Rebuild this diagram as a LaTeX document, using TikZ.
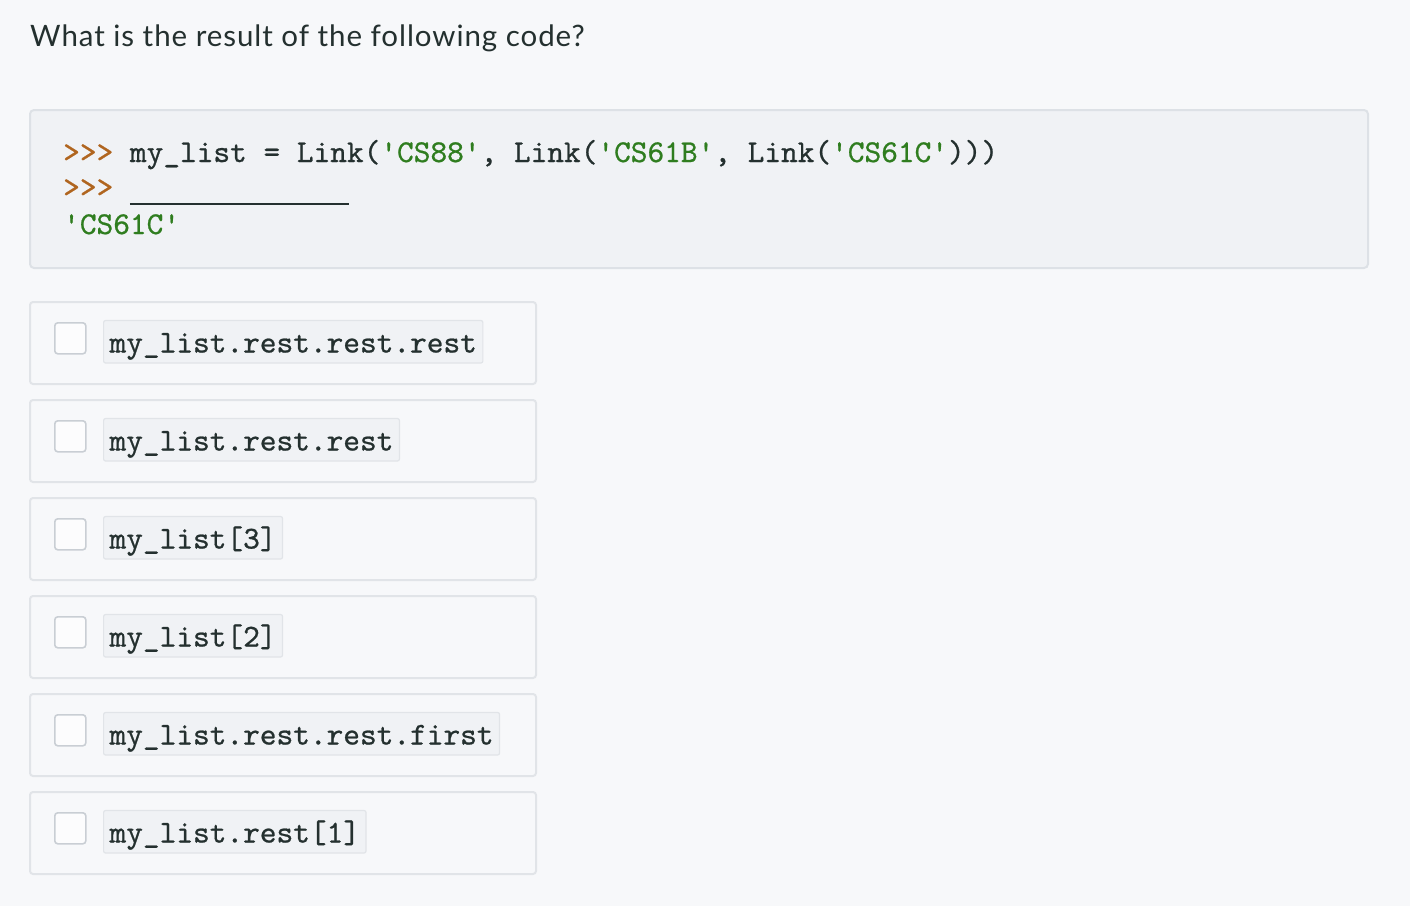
\documentclass[tikz,border=0pt]{standalone}
\usepackage{fontspec}
\newfontfamily\titlefont{Lato}[LetterSpace=3.2]
\newfontfamily\codefont{lmmono10-regular.otf}[FakeBold=0.7]
\definecolor{pagebg}{HTML}{F7F8FA}
\definecolor{codebg}{HTML}{F0F2F5}
\definecolor{codeborder}{HTML}{DDE1E6}
\definecolor{boxborder}{HTML}{E1E4E8}
\definecolor{cbborder}{HTML}{C9CED4}
\definecolor{ink}{HTML}{24302F}
\definecolor{prompt}{HTML}{B0651F}
\definecolor{strg}{HTML}{2F7D1F}
\tikzset{
  codetxt/.style={font=\codefont\fontsize{31.8}{36}\selectfont, text=ink, inner sep=0pt, anchor=base west},
  codeblock/.style={draw=codeborder, fill=codebg, line width=2pt, rounded corners=4pt, anchor=north west, minimum width=1338pt, minimum height=158pt, inner sep=0pt},
  optbox/.style={draw=boxborder, fill=pagebg, line width=2pt, rounded corners=3pt, anchor=north west, minimum width=506pt, minimum height=82pt, inner sep=0pt},
  checkbox/.style={draw=cbborder, fill=white!60!pagebg, line width=1.6pt, rounded corners=3pt, anchor=north west, minimum size=31pt, inner sep=0pt},
  chip/.style={codetxt, draw=boxborder, fill=codebg, line width=1.2pt, rounded corners=2pt, inner xsep=6pt, inner ysep=0pt, text height=32pt, text depth=10.5pt},
}
\newcommand{\pr}{{\color{prompt}>>>}}
\newcommand{\st}[1]{{\color{strg}#1}}
\begin{document}
\begin{tikzpicture}[x=1pt,y=-1pt]
\useasboundingbox (0,0) rectangle (1410,906);
\fill[pagebg] (0,0) rectangle (1410,906);
\node[font=\titlefont\fontsize{29.5}{34}\selectfont, text=ink, anchor=base west, inner sep=0pt] (title) at (30,46) {What is the result of the following code?};
\node[codeblock] (code) at (29,109) {};
\node[codetxt] (line1) at (63,162) {\pr{} my\_list = Link(\st{'CS88'}, Link(\st{'CS61B'}, Link(\st{'CS61C'})))};
\node[codetxt] (line2) at (63,197) {\pr{} {\color{ink}\rule[-7.5pt]{219pt}{1.8pt}}};
\node[codetxt] (line3) at (63,234) {\st{'CS61C'}};
\foreach \i/\t in {1/{my\_list.rest.rest.rest},2/{my\_list.rest.rest},3/{my\_list[3]},4/{my\_list[2]},5/{my\_list.rest.rest.first},6/{my\_list.rest[1]}}{
  \pgfmathsetmacro{\top}{301+98*(\i-1)}
  \node[optbox] (box\i) at (29,\top) {};
  \node[checkbox] (cb\i) at (54,\top+21) {};
  \node[chip] (chip\i) at (103,\top+51.5) {\t};
}
\end{tikzpicture}
\end{document}
